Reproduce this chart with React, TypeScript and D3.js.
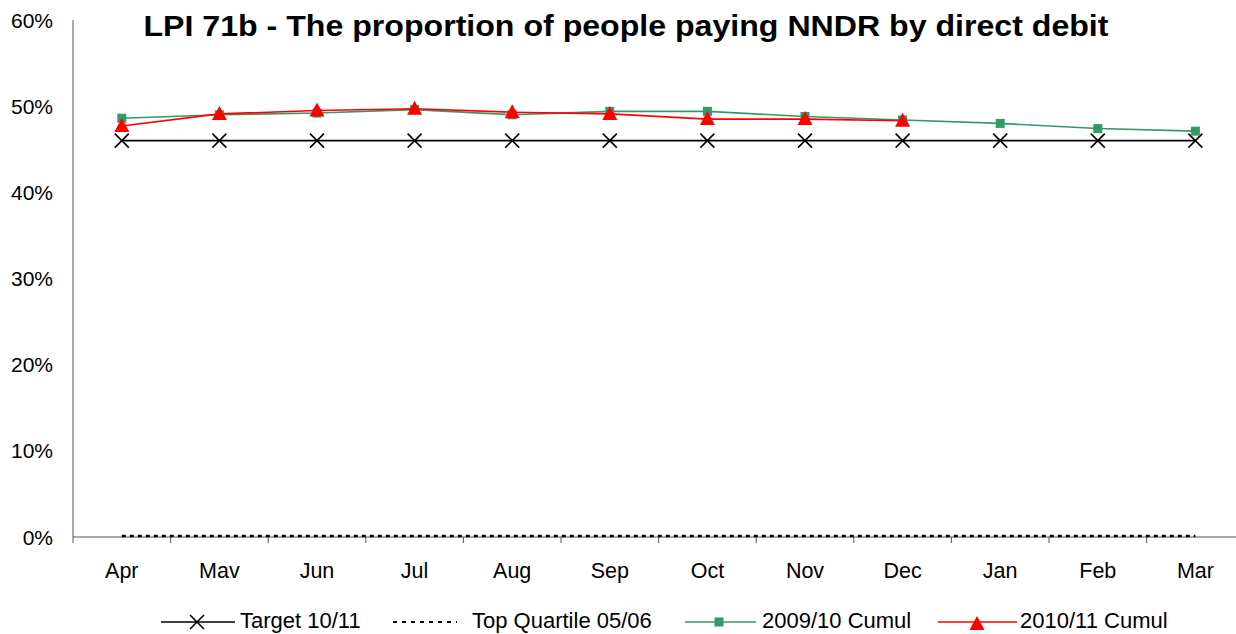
import { line, scaleBand, scaleLinear } from 'd3'

const months = ['Apr', 'Mav', 'Jun', 'Jul', 'Aug', 'Sep', 'Oct', 'Nov', 'Dec', 'Jan', 'Feb', 'Mar']
const target1011 = [46, 46, 46, 46, 46, 46, 46, 46, 46, 46, 46, 46]
const topQuartile0506 = [0, 0, 0, 0, 0, 0, 0, 0, 0, 0, 0, 0]
const cumul0910 = [48.6, 49.0, 49.2, 49.6, 49.0, 49.4, 49.4, 48.8, 48.4, 48.0, 47.4, 47.1]
const cumul1011 = [47.7, 49.1, 49.5, 49.7, 49.3, 49.1, 48.5, 48.5, 48.3]
const yTicks = [0, 10, 20, 30, 40, 50, 60]

const W = 1236
const H = 634
const left = 73
const top = 20
const bottom = 537
const band = 97.6
const font = 'Arial, "Liberation Sans", Helvetica, sans-serif'
const green = '#339966'
const red = '#FF0000'

export default function App() {
	const x = scaleBand<string>()
		.domain(months)
		.range([left, left + band * months.length])
		.padding(0)
	const y = scaleLinear().domain([0, 60]).range([bottom, top])
	const cx = (i: number) => x(months[i])! + x.bandwidth() / 2

	const path = (vals: number[]) =>
		line<number>()
			.x((_, i) => cx(i))
			.y((d) => y(d))(vals) ?? ''

	const cross = (px: number, py: number, key: string | number) => (
		<g key={key} stroke='#000' strokeWidth={1.6}>
			<line x1={px - 7} y1={py - 7} x2={px + 7} y2={py + 7} />
			<line x1={px - 7} y1={py + 7} x2={px + 7} y2={py - 7} />
		</g>
	)
	const square = (px: number, py: number, key: string | number) => (
		<rect key={key} x={px - 4.5} y={py - 4.5} width={9} height={9} fill={green} />
	)
	const tri = (px: number, py: number, key: string | number) => (
		<path key={key} d={`M${px},${py - 8} L${px + 7.5},${py + 6} L${px - 7.5},${py + 6} Z`} fill={red} />
	)

	return (
		<svg width={W} height={H} style={{ position: 'absolute', left: 0, top: 0, background: '#fff' }} fontFamily={font}>
			<text x={626} y={36} textAnchor='middle' fontSize={29} fontWeight='bold' textLength={965} lengthAdjust='spacingAndGlyphs'>
				LPI 71b - The proportion of people paying NNDR by direct debit
			</text>

			{/* y axis */}
			<line x1={left} x2={left} y1={top} y2={bottom} stroke='#555' strokeWidth={1} />
			{yTicks.map((t) => (
				<text key={t} x={53} y={y(t)} dy='0.36em' textAnchor='end' fontSize={21}>
					{t}%
				</text>
			))}

			{/* x axis */}
			<line x1={left} x2={W} y1={bottom} y2={bottom} stroke='#555' strokeWidth={1} />
			{months.map((m, i) => (
				<g key={m}>
					<line x1={x(m)!} x2={x(m)!} y1={bottom} y2={bottom + 6} stroke='#555' strokeWidth={1} />
					<text x={cx(i)} y={578} textAnchor='middle' fontSize={21.5}>
						{m}
					</text>
				</g>
			))}

			{/* Top quartile */}
			<path d={path(topQuartile0506)} fill='none' stroke='#000' strokeWidth={2.5} strokeDasharray='4,4' transform='translate(0,-1)' />

			{/* Target */}
			<path d={path(target1011)} fill='none' stroke='#000' strokeWidth={1.6} />
			{target1011.map((v, i) => cross(cx(i), y(v), i))}

			{/* 2009/10 */}
			<path d={path(cumul0910)} fill='none' stroke={green} strokeWidth={1.6} />
			{cumul0910.map((v, i) => square(cx(i), y(v), i))}

			{/* 2010/11 */}
			<path d={path(cumul1011)} fill='none' stroke={red} strokeWidth={1.6} />
			{cumul1011.map((v, i) => tri(cx(i), y(v), i))}

			{/* legend */}
			<g fontSize={22}>
				<line x1={161} x2={235} y1={622} y2={622} stroke='#000' strokeWidth={1.6} />
				{cross(197, 622, 'lg1')}
				<text x={240} y={628}>Target 10/11</text>

				<line x1={393} x2={457} y1={622} y2={622} stroke='#000' strokeWidth={2} strokeDasharray='4,5' />
				<text x={472} y={628}>Top Quartile 05/06</text>

				<line x1={685} x2={756} y1={622} y2={622} stroke={green} strokeWidth={1.6} />
				{square(719, 622, 'lg3')}
				<text x={762} y={628}>2009/10 Cumul</text>

				<line x1={938} x2={1017} y1={622} y2={622} stroke={red} strokeWidth={1.6} />
				{tri(977, 624, 'lg4')}
				<text x={1020} y={628}>2010/11 Cumul</text>
			</g>
		</svg>
	)
}
